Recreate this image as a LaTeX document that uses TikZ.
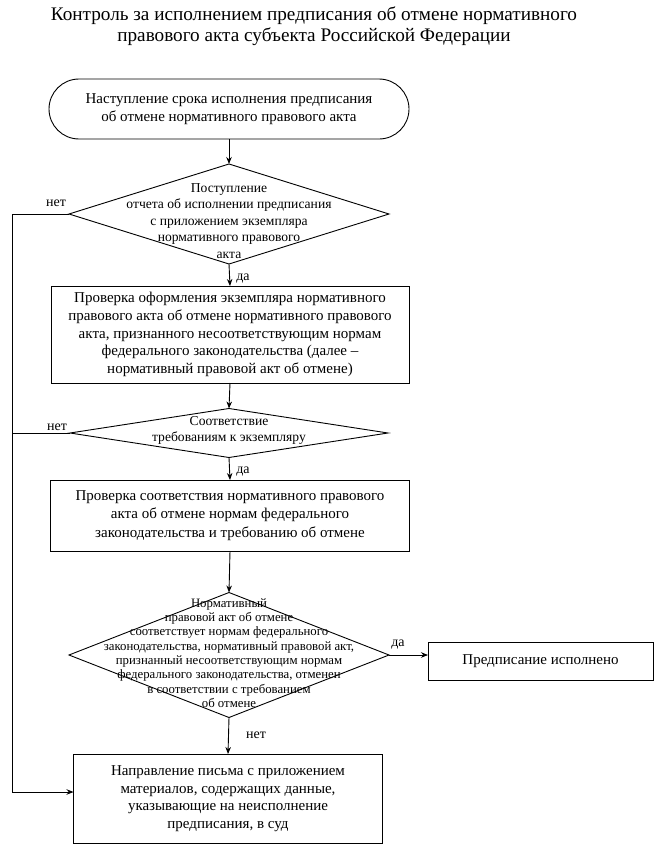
\documentclass[tikz,border=0pt]{standalone}
\usepackage{fontspec}
\setmainfont{Liberation Serif}
\usetikzlibrary{shapes.geometric,arrows.meta}
\begin{document}
\begin{tikzpicture}[x=1pt,y=-1pt,
  line width=0.9pt,
  every node/.style={inner sep=0pt, outer sep=0pt},
  procbox/.style={draw, align=center, font=\fontsize{15}{17.6}\selectfont},
  decision/.style={draw, diamond, inner sep=0pt},
  dtext/.style={align=center},
  lbl/.style={font=\fontsize{14}{16}\selectfont},
  arr/.style={-{Stealth[length=7pt,width=5.5pt]}}
]
\useasboundingbox (0,0) rectangle (660,851);

% title
\node[align=center, font=\fontsize{19.2}{21}\selectfont] (title) at (314,26)
  {Контроль за исполнением предписания об отмене нормативного\\
   правового акта субъекта Российской Федерации};

% start
\node[draw, rounded corners=30pt, minimum width=360pt, minimum height=60pt,
      align=center, font=\fontsize{15}{18}\selectfont] (start) at (229,109)
  {Наступление срока исполнения предписания\\
   об отмене нормативного правового акта};

% decision 1
\node[decision, minimum width=320pt, minimum height=100pt] (d1) at (229,214) {};
\node[dtext, font=\fontsize{13.6}{16.4}\selectfont] (d1t) at (229,221)
  {Поступление\\
   отчета об исполнении предписания\\
   с приложением экземпляра\\
   нормативного правового\\
   акта};

% box 2
\node[procbox, minimum width=358pt, minimum height=97pt] (b2) at (230,334.5)
  {Проверка оформления экземпляра нормативного\\
   правового акта об отмене нормативного правового\\
   акта, признанного несоответствующим нормам\\
   федерального законодательства (далее –\\
   нормативный правовой акт об отмене)};

% decision 2
\node[decision, minimum width=318pt, minimum height=49pt] (d2) at (229,433) {};
\node[dtext, font=\fontsize{13.6}{16}\selectfont] (d2t) at (229,430)
  {Соответствие\\ требованиям к экземпляру};

% box 3
\node[procbox, minimum width=359pt, minimum height=71pt, font=\fontsize{15}{18.3}\selectfont] (b3) at (230,515.5)
  {Проверка соответствия нормативного правового\\
   акта об отмене нормам федерального\\
   законодательства и требованию об отмене};

% decision 3
\node[decision, minimum width=320pt, minimum height=125pt] (d3) at (229,655) {};
\node[dtext, font=\fontsize{12.8}{14.3}\selectfont] (d3t) at (229,653)
  {Нормативный\\
   правовой акт об отмене\\
   соответствует нормам федерального\\
   законодательства, нормативный правовой акт,\\
   признанный несоответствующим нормам\\
   федерального законодательства, отменен\\
   в соответствии с требованием\\
   об отмене};

% box 4
\node[procbox, minimum width=225pt, minimum height=38pt] (b4) at (540.5,661)
  {Предписание исполнено};

% box 5
\node[procbox, minimum width=309pt, minimum height=89pt] (b5) at (228,798.5)
  {Направление письма с приложением\\
   материалов, содержащих данные,\\
   указывающие на неисполнение\\
   предписания, в суд};

% corner coordinates of the left return line
\coordinate (c1) at (12,214);
\coordinate (c2) at (12,792);

% connectors
\draw[arr] (start.south) -- (d1.north);
\draw[arr] (d1.south) -- (b2.north);
\draw[arr] (b2.south) -- (d2.north);
\draw[arr] (d2.south) -- (b3.north);
\draw[arr] (b3.south) -- (d3.north);
\draw[arr] (d3.east) -- (d3.east -| b4.west);
\draw[arr] (d3.south) -- (b5.north);
\draw[arr] (d1.west) -- (c1) -- (c2) -- (b5.west |- c2);
\draw (d2.west) -- (c1 |- d2.west);

% labels
\node[lbl] (l1) at (56,203) {нет};
\node[lbl] (l2) at (243,279) {да};
\node[lbl] (l3) at (57,427) {нет};
\node[lbl] (l4) at (243,472) {да};
\node[lbl] (l5) at (398,645) {да};
\node[lbl] (l6) at (256,735) {нет};
\end{tikzpicture}
\end{document}
